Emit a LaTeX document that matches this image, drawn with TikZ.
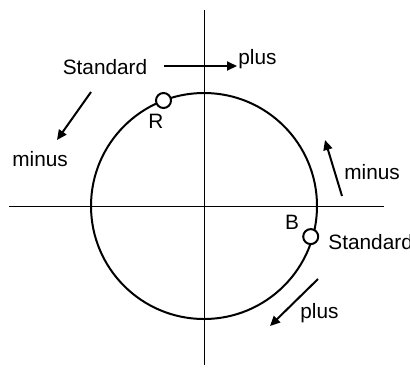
\documentclass[tikz,border=0pt]{standalone}
\usepackage{fontspec}
\setmainfont{Liberation Sans}
\usetikzlibrary{arrows.meta,calc}

\tikzset{
  lbl/.style={inner sep=0pt,font=\fontsize{10.4}{12}\selectfont},
  dial/.style={line width=1pt},
  axis/.style={line width=0.5pt},
  mover/.style={line width=1pt,-{Triangle[length=5pt,width=4.5pt]}},
  marker/.style={circle,draw,fill=white,line width=1pt,inner sep=0pt,minimum size=7.5pt}
}

\begin{document}
\begin{tikzpicture}[x=0.5pt,y=-0.5pt]
\useasboundingbox (0,0) rectangle (410,381);

\coordinate (O) at (204,206);
\coordinate (xl) at (9,206);
\coordinate (xr) at (384,206);
\coordinate (yt) at (204,10);
\coordinate (yb) at (204,365);
\draw[axis] (xl) -- (xr);
\draw[axis] (yt) -- (yb);
\draw[dial] (O) circle[radius=56.5pt];

\node[marker] (R) at ($(O)+(111:56.5pt)$) {};
\node[marker] (B) at ($(O)+(-16:55.5pt)$) {};
\node[lbl] (Rlbl) at (156,121) {R};
\node[lbl] (Blbl) at (292,222) {B};

\node[lbl] (stdR) at (105,67) {Standard};
\node[lbl,anchor=west] (plusR) at (238,59) {plus};
\node[lbl,anchor=west] (minusR) at (12,159) {minus};
\coordinate (p1s) at (164,66);
\coordinate (p1e) at (237,66);
\coordinate (m1s) at (91,92);
\coordinate (m1e) at (57,140);
\draw[mover] (p1s) -- (p1e);
\draw[mover] (m1s) -- (m1e);

\node[lbl,anchor=west] (stdB) at (328,242) {Standard};
\node[lbl,anchor=west] (minusB) at (344,172) {minus};
\node[lbl,anchor=west] (plusB) at (300,313) {plus};
\coordinate (m2s) at (342,196);
\coordinate (m2e) at (325,140);
\coordinate (p2s) at (318,279);
\coordinate (p2e) at (270,326);
\draw[mover] (m2s) -- (m2e);
\draw[mover] (p2s) -- (p2e);
\end{tikzpicture}
\end{document}
